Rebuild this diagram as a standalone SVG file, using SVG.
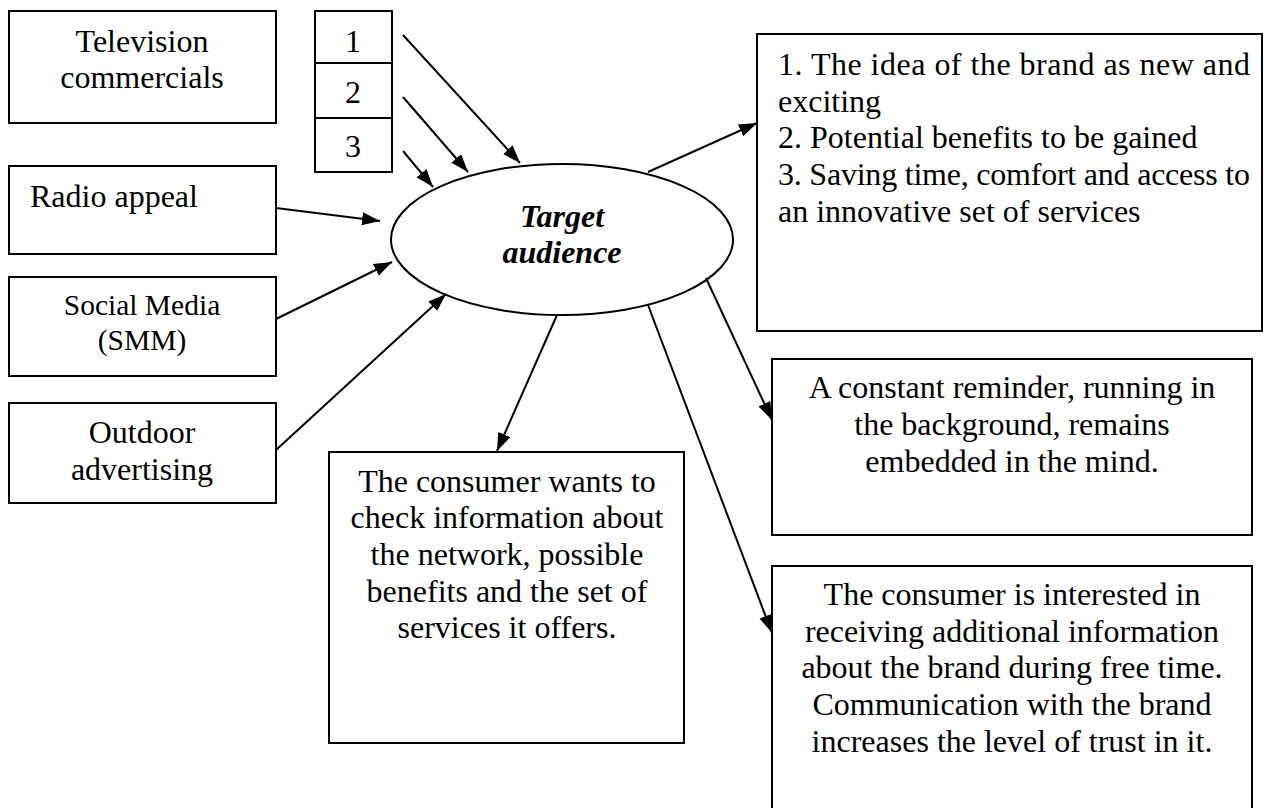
<svg xmlns="http://www.w3.org/2000/svg" width="1264" height="808" viewBox="0 0 1264 808">
<style>
.box{fill:#fff;stroke:#000;stroke-width:2}
.t{font-family:"Liberation Serif","Times New Roman",serif;font-size:32px;fill:#000}
.c{text-anchor:middle}
.b{font-weight:bold;font-style:italic}
.ln{stroke:#000;stroke-width:2;fill:none;marker-end:url(#ah)}
</style>
<defs>
<marker id="ah" markerUnits="userSpaceOnUse" markerWidth="20" markerHeight="16" refX="18" refY="6.5" orient="auto">
<path d="M0,0 L18,6.5 L0,13 z" fill="#000"/>
</marker>
</defs>
<rect width="1264" height="808" fill="#fff"/>
<g id="tv"><rect class="box" x="9" y="11" width="267" height="112"/>
<text class="t c" x="142" y="52">Television</text><text class="t c" x="142" y="88">commercials</text></g>
<g id="nums"><rect class="box" x="315" y="11" width="77" height="52"/><rect class="box" x="315" y="63" width="77" height="55"/><rect class="box" x="315" y="118" width="77" height="54"/>
<text class="t c" x="353" y="52">1</text><text class="t c" x="353" y="103">2</text><text class="t c" x="353" y="157">3</text></g>
<g id="radio"><rect class="box" x="9" y="166" width="267" height="88"/>
<text class="t" x="30" y="207">Radio appeal</text></g>
<g id="social"><rect class="box" x="9" y="277" width="267" height="99"/>
<text class="t c" x="142" y="315" style="font-size:29.5px">Social Media</text><text class="t c" x="142" y="350" style="font-size:29.5px">(SMM)</text></g>
<g id="outdoor"><rect class="box" x="9" y="403" width="267" height="100"/>
<text class="t c" x="142" y="443">Outdoor</text><text class="t c" x="142" y="480">advertising</text></g>
<g id="target"><ellipse class="box" cx="562" cy="239.5" rx="171" ry="75.5"/>
<text class="t c b" x="562" y="227">Target</text><text class="t c b" x="562" y="263">audience</text></g>
<g id="effects"><rect class="box" x="757" y="34" width="505" height="297"/>
<text class="t" x="778" y="75" textLength="472" lengthAdjust="spacing">1. The idea of the brand as new and</text>
<text class="t" x="778" y="112">exciting</text>
<text class="t" x="778" y="148">2. Potential benefits to be gained</text>
<text class="t" x="778" y="185" textLength="472" lengthAdjust="spacing">3. Saving time, comfort and access to</text>
<text class="t" x="778" y="222">an innovative set of services</text></g>
<g id="reminder"><rect class="box" x="772" y="359" width="480" height="176"/>
<text class="t c" x="1012" y="398">A constant reminder, running in</text>
<text class="t c" x="1012" y="435">the background, remains</text>
<text class="t c" x="1012" y="472">embedded in the mind.</text></g>
<g id="check"><rect class="box" x="329" y="452" width="355" height="291"/>
<text class="t c" x="507" y="492">The consumer wants to</text>
<text class="t c" x="507" y="528">check information about</text>
<text class="t c" x="507" y="565">the network, possible</text>
<text class="t c" x="507" y="602">benefits and the set of</text>
<text class="t c" x="507" y="638">services it offers.</text></g>
<g id="interest"><rect class="box" x="772" y="566" width="480" height="250"/>
<text class="t c" x="1012" y="605">The consumer is interested in</text>
<text class="t c" x="1012" y="642">receiving additional information</text>
<text class="t c" x="1012" y="678">about the brand during free time.</text>
<text class="t c" x="1012" y="715">Communication with the brand</text>
<text class="t c" x="1012" y="752">increases the level of trust in it.</text></g>
<g id="connectors">
<line class="ln" x1="403" y1="35" x2="520" y2="163"/>
<line class="ln" x1="403" y1="97" x2="468" y2="172"/>
<line class="ln" x1="403" y1="151" x2="433" y2="187"/>
<line class="ln" x1="276" y1="208" x2="380" y2="221"/>
<line class="ln" x1="276" y1="319" x2="392" y2="262"/>
<line class="ln" x1="276" y1="450" x2="446" y2="294"/>
<line class="ln" x1="648" y1="172" x2="757" y2="123"/>
<line class="ln" x1="557" y1="315" x2="497" y2="451"/>
<line class="ln" x1="706" y1="278" x2="772" y2="420"/>
<line class="ln" x1="648" y1="305" x2="772" y2="633"/>
</g>
</svg>
